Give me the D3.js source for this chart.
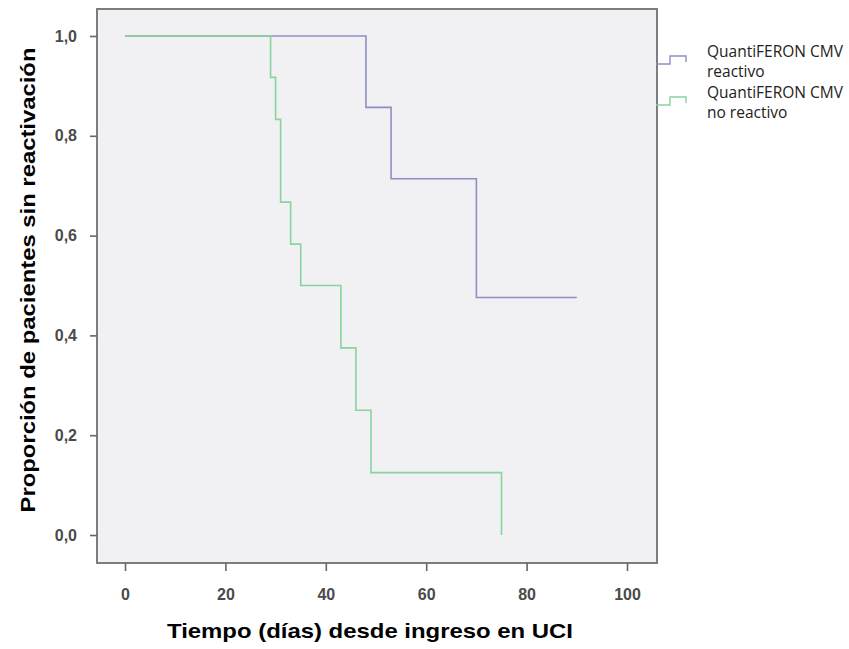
<!DOCTYPE html>
<html>
<head>
<meta charset="utf-8">
<script src="https://cdn.jsdelivr.net/npm/d3@7"></script>
<style>
  body { margin: 0; background: #fff; }
</style>
</head>
<body>
<svg id="chart" width="849" height="649"></svg>
<script>
// Kaplan-Meier steps
const seriesNames = ['QuantiFERON CMV reactivo', 'QuantiFERON CMV no reactivo'];
const reactivoTimes = [0, 48, 53, 70, 90];
const reactivoSurv = [1.0, 0.857, 0.714, 0.476, 0.476];
const noReactivoTimes = [0, 29, 30, 31, 33, 35, 43, 46, 49, 75, 75];
const noReactivoSurv = [1.0, 0.917, 0.833, 0.667, 0.583, 0.5, 0.375, 0.25, 0.125, 0.125, 0.0];
const xTicks = [0, 20, 40, 60, 80, 100];
const yTicks = [0, 0.2, 0.4, 0.6, 0.8, 1.0];
const colors = ['#8c90c4', '#86d49e'];

const svg = d3.select('#chart');
const frame = { left: 97, top: 9, right: 657, bottom: 563 };

const x = d3.scaleLinear().domain([0, 100]).range([125, 627]);
const y = d3.scaleLinear().domain([0, 1]).range([535, 36]);

// plot area
svg.append('rect')
  .attr('x', frame.left).attr('y', frame.top)
  .attr('width', frame.right - frame.left)
  .attr('height', frame.bottom - frame.top)
  .attr('fill', '#f1f0f3')
  .attr('stroke', '#7d7d7d')
  .attr('stroke-width', 2);

// axes
const yAxis = svg.append('g')
  .attr('transform', `translate(${frame.left},0)`)
  .call(d3.axisLeft(y).tickValues(yTicks).tickSize(7).tickPadding(13)
    .tickFormat((d) => d3.format('.1f')(d).replace('.', ',')));
const xAxis = svg.append('g')
  .attr('transform', `translate(0,${frame.bottom})`)
  .call(d3.axisBottom(x).tickValues(xTicks).tickSize(8).tickPadding(18));

[xAxis, yAxis].forEach((ax) => {
  ax.select('.domain').remove();
  ax.selectAll('line').attr('stroke', '#666').attr('stroke-width', 1.6);
  ax.selectAll('text')
    .attr('fill', '#4a4a4a')
    .style('font-family', 'Liberation Sans, Arial, sans-serif')
    .style('font-size', '16px')
    .style('font-weight', 'bold');
});

// titles
svg.append('text')
  .attr('x', 370).attr('y', 638)
  .attr('text-anchor', 'middle')
  .attr('textLength', 406)
  .attr('lengthAdjust', 'spacingAndGlyphs')
  .style('font-family', 'Liberation Sans, Arial, sans-serif')
  .style('font-size', '21px').style('font-weight', 'bold')
  .text('Tiempo (días) desde ingreso en UCI');

svg.append('text')
  .attr('transform', 'translate(35,280) rotate(-90)')
  .attr('text-anchor', 'middle')
  .attr('textLength', 465)
  .attr('lengthAdjust', 'spacingAndGlyphs')
  .style('font-family', 'Liberation Sans, Arial, sans-serif')
  .style('font-size', '21px').style('font-weight', 'bold')
  .text('Proporción de pacientes sin reactivación');

// curves
const line = d3.line().curve(d3.curveStepAfter)
  .x((d) => x(d[0])).y((d) => y(d[1]));

const curves = [
  d3.zip(reactivoTimes, reactivoSurv),
  d3.zip(noReactivoTimes, noReactivoSurv)
];

svg.append('g')
  .selectAll('path')
  .data(curves)
  .enter()
  .append('path')
  .attr('d', line)
  .attr('fill', 'none')
  .attr('stroke', (d, i) => colors[i])
  .attr('stroke-width', 1.6);

// legend
const legendY = [60, 101];
const legend = svg.append('g');
seriesNames.forEach((name, i) => {
  const ly = legendY[i];
  legend.append('path')
    .attr('d', `M656,${ly + 4}H670V${ly - 4}H686V${ly + 2}`)
    .attr('fill', 'none')
    .attr('stroke', colors[i])
    .attr('stroke-width', 1.4);
  const words = name.split('CMV ');
  const t = legend.append('text')
    .style('font-family', 'Open Sans, sans-serif')
    .style('font-size', '15.5px')
    .attr('fill', '#222');
  t.append('tspan').attr('x', 707).attr('y', ly - 3).text(words[0] + 'CMV');
  t.append('tspan').attr('x', 707).attr('y', ly + 17).text(words[1]);
});
</script>
</body>
</html>
